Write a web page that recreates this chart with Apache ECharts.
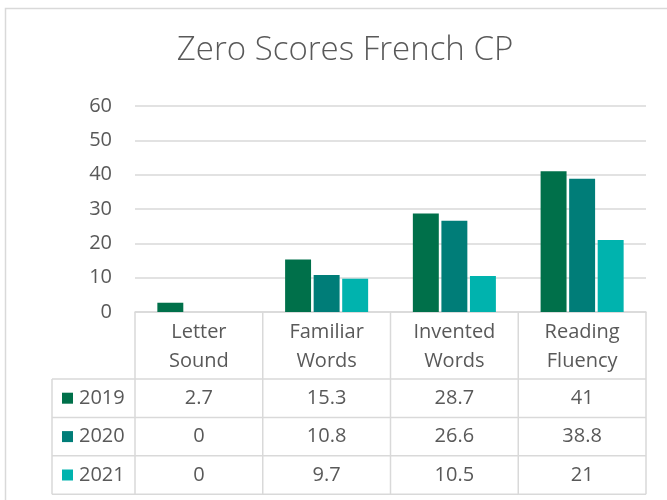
<!DOCTYPE html>
<html>
<head>
<meta charset="utf-8">
<style>
  html, body { margin: 0; padding: 0; background: #fff; }
  #main { width: 667px; height: 500px; }
</style>
</head>
<body>
<div id="main"></div>
<script src="https://cdn.jsdelivr.net/npm/echarts@6/dist/echarts.min.js"></script>
<script>
var categories = ['Letter Sound', 'Familiar Words', 'Invented Words', 'Reading Fluency'];
var years = ['2019', '2020', '2021'];
var values2019 = [2.7, 15.3, 28.7, 41];
var values2020 = [0, 10.8, 26.6, 38.8];
var values2021 = [0, 9.7, 10.5, 21];
var yTicks = [0, 10, 20, 30, 40, 50, 60];

var seriesValues = [values2019, values2020, values2021];
var colors = ['#00704A', '#007D78', '#00B3AE'];
var font = '"Open Sans", sans-serif';
var textColor = '#595959';
var lineColor = '#D9D9D9';

// plot area
var gLeft = 135, gRight = 646, gTop = 106, gBottom = 312;
// table
var tLeft = 52, headBottom = 379, rowH = 38.4;

var myChart = echarts.init(document.getElementById('main'));

var graphics = [];
// outer chart border
graphics.push({
    type: 'rect', silent: true,
    shape: { x: 5.5, y: 8.5, width: 700, height: 600 },
    style: { fill: 'none', stroke: lineColor, lineWidth: 1.5 }
});

function hline(x1, x2, y) {
    graphics.push({ type: 'line', silent: true, shape: { x1: x1, y1: y, x2: x2, y2: y },
        style: { stroke: lineColor, lineWidth: 1.5 } });
}
function vline(x, y1, y2) {
    graphics.push({ type: 'line', silent: true, shape: { x1: x, y1: y1, x2: x, y2: y2 },
        style: { stroke: lineColor, lineWidth: 1.5 } });
}

var colW = (gRight - gLeft) / categories.length;
var tBottom = headBottom + rowH * years.length;

for (var r = 0; r <= years.length; r++) {
    hline(tLeft, gRight, headBottom + r * rowH);
}
vline(tLeft, headBottom, tBottom);
for (var c = 0; c <= categories.length; c++) {
    vline(gLeft + c * colW, gBottom, tBottom);
}

for (var r = 0; r < years.length; r++) {
    var cy = headBottom + r * rowH + rowH / 2;
    graphics.push({ type: 'rect', silent: true,
        shape: { x: 62, y: cy - 5.5, width: 11, height: 11 },
        style: { fill: colors[r] } });
    graphics.push({ type: 'text', silent: true, x: 79, y: cy,
        style: { text: years[r], font: '20px ' + font, fill: textColor,
            verticalAlign: 'middle' } });
    for (var c = 0; c < categories.length; c++) {
        graphics.push({ type: 'text', silent: true,
            x: gLeft + c * colW + colW / 2, y: cy,
            style: { text: String(seriesValues[r][c]), font: '20px ' + font, fill: textColor,
                align: 'center', verticalAlign: 'middle' } });
    }
}

var option = {
    animation: false,
    backgroundColor: '#fff',
    title: {
        text: 'Zero Scores French CP',
        left: 340, top: 29, textAlign: 'center',
        textStyle: { fontFamily: font, fontSize: 33, fontWeight: 300, color: textColor }
    },
    grid: { left: gLeft, right: 667 - gRight, top: gTop, bottom: 500 - gBottom },
    xAxis: {
        type: 'category',
        data: categories,
        axisLine: { lineStyle: { color: lineColor, width: 1.5 } },
        axisTick: { show: false },
        axisLabel: {
            interval: 0, margin: 6,
            fontFamily: font, fontSize: 20, color: textColor, lineHeight: 29,
            formatter: function (v) { return v.replace(' ', '\n'); }
        }
    },
    yAxis: {
        type: 'value', min: yTicks[0], max: yTicks[yTicks.length - 1], interval: yTicks[1] - yTicks[0],
        axisLine: { show: false },
        axisTick: { show: false },
        axisLabel: { fontFamily: font, fontSize: 20, color: textColor, margin: 23 },
        splitLine: { lineStyle: { color: lineColor, width: 1.5 } }
    },
    series: years.map(function (y, i) {
        return {
            name: y, type: 'bar',
            data: seriesValues[i],
            barGap: '10%', barCategoryGap: '35%',
            itemStyle: { color: colors[i] }
        };
    }),
    graphic: graphics
};
myChart.setOption(option);
</script>
</body>
</html>
